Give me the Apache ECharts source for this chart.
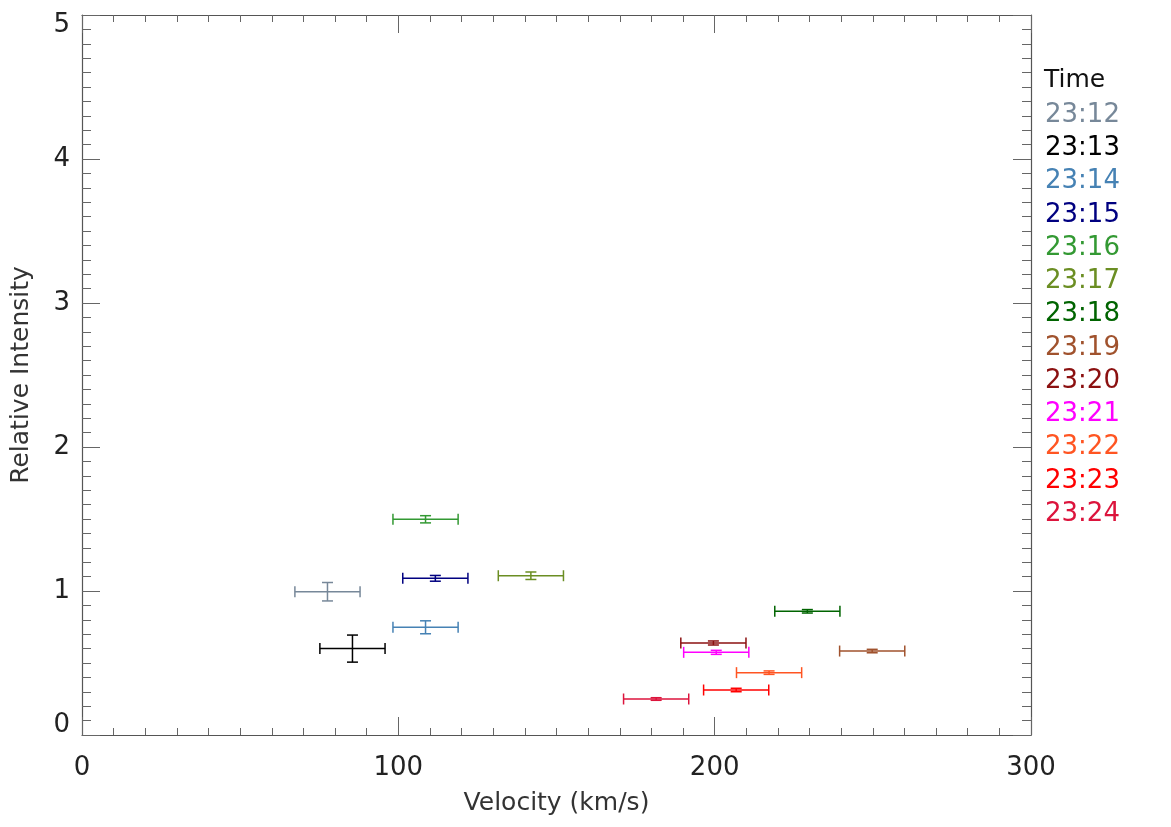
<!DOCTYPE html>
<html>
<head>
<meta charset="utf-8">
<script src="https://cdn.jsdelivr.net/npm/echarts@6/dist/echarts.min.js"></script>
<style>html,body{margin:0;padding:0;background:#fff}#c{width:1171px;height:827px}</style>
</head>
<body>
<div id="c"></div>
<script>
// Data
const times = ['23:12','23:13','23:14','23:15','23:16','23:17','23:18','23:19','23:20','23:21','23:22','23:23','23:24'];
const velocity = [77.6, 85.5, 108.6, 111.7, 108.6, 141.9, 229.3, 249.8, 199.6, 200.5, 217.2, 206.8, 181.5];
const velocityErr = [10.3, 10.3, 10.3, 10.3, 10.3, 10.3, 10.3, 10.3, 10.3, 10.3, 10.3, 10.3, 10.3];
const intensity = [0.995, 0.60, 0.748, 1.088, 1.498, 1.106, 0.859, 0.583, 0.639, 0.574, 0.433, 0.3125, 0.25];
const intensityErr = [0.064, 0.094, 0.045, 0.02, 0.025, 0.026, 0.012, 0.012, 0.014, 0.014, 0.012, 0.012, 0.009];
const colors = ['#778899','#000000','#4682B4','#000080','#339933','#6B8E23','#006400','#A0522D','#8B1010','#FF00FF','#FF5522','#FF0000','#DC143C'];
const xTicks = [0, 100, 200, 300];
const yTicks = [0, 1, 2, 3, 4, 5];

const FONT = 'DejaVu Sans';
const chart = echarts.init(document.getElementById('c'), null, {renderer: 'canvas'});

function errRender(params, api) {
  const v = api.value(0), i = api.value(1), xe = api.value(2), ye = api.value(3);
  const l = api.coord([v - xe, i]), r = api.coord([v + xe, i]);
  const t = api.coord([v, i + ye]), b = api.coord([v, i - ye]);
  const cap = 5.5;
  const color = api.visual('color');
  const st = {stroke: color, lineWidth: 1.5, fill: null};
  return {
    type: 'group',
    children: [
      {type: 'line', shape: {x1: l[0], y1: l[1], x2: r[0], y2: r[1]}, style: st},
      {type: 'line', shape: {x1: l[0], y1: l[1] - cap, x2: l[0], y2: l[1] + cap}, style: st},
      {type: 'line', shape: {x1: r[0], y1: r[1] - cap, x2: r[0], y2: r[1] + cap}, style: st},
      {type: 'line', shape: {x1: t[0], y1: t[1], x2: b[0], y2: b[1]}, style: st},
      {type: 'line', shape: {x1: t[0] - cap, y1: t[1], x2: t[0] + cap, y2: t[1]}, style: st},
      {type: 'line', shape: {x1: b[0] - cap, y1: b[1], x2: b[0] + cap, y2: b[1]}, style: st}
    ]
  };
}

const series = times.map((t, k) => ({
  type: 'custom',
  name: t,
  color: colors[k],
  renderItem: errRender,
  encode: {x: 0, y: 1},
  data: [[velocity[k], intensity[k], velocityErr[k], intensityErr[k]]],
  z: 5
}));

const axisLineStyle = {color: '#555', width: 1.2};
const tickStyle = {color: '#666', width: 1};

function baseX() {
  return {
    type: 'value', min: xTicks[0], max: xTicks[xTicks.length - 1], interval: 100,
    axisLine: {show: true, onZero: false, lineStyle: axisLineStyle},
    axisTick: {show: true, inside: true, length: 18, lineStyle: tickStyle},
    minorTick: {show: true, splitNumber: 10, length: 7, lineStyle: tickStyle},
    splitLine: {show: false}, minorSplitLine: {show: false}
  };
}
function baseY() {
  return {
    type: 'value', min: yTicks[0], max: yTicks[yTicks.length - 1], interval: 1,
    axisLine: {show: true, onZero: false, lineStyle: axisLineStyle},
    axisTick: {show: true, inside: true, length: 18, lineStyle: tickStyle},
    minorTick: {show: true, splitNumber: 10, length: 9, lineStyle: tickStyle},
    splitLine: {show: false}, minorSplitLine: {show: false}
  };
}

chart.setOption({
  animation: false,
  backgroundColor: '#fff',
  grid: {left: 82, right: 140, top: 15, bottom: 92, containLabel: false},
  xAxis: [
    Object.assign(baseX(), {
      position: 'bottom',
      name: 'Velocity (km/s)', nameLocation: 'middle', nameGap: 56,
      nameTextStyle: {fontFamily: FONT, fontSize: 25, color: '#333'},
      axisLabel: {show: true, fontFamily: FONT, fontSize: 26, color: '#222', margin: 20}
    }),
    Object.assign(baseX(), {position: 'top', axisLabel: {show: false}})
  ],
  yAxis: [
    Object.assign(baseY(), {
      position: 'left',
      name: 'Relative Intensity', nameLocation: 'middle', nameGap: 48,
      nameTextStyle: {fontFamily: FONT, fontSize: 25, color: '#333'},
      axisLabel: {show: true, fontFamily: FONT, fontSize: 26, lineHeight: 20, color: '#222', margin: 12,
                  verticalAlignMinLabel: 'bottom', verticalAlignMaxLabel: 'top'}
    }),
    Object.assign(baseY(), {position: 'right', axisLabel: {show: false}})
  ],
  legend: {
    show: true, orient: 'vertical', left: 1040, top: 97,
    icon: 'none', itemWidth: 0, itemHeight: 22, itemGap: 7.25,
    selectedMode: false,
    textStyle: {fontFamily: FONT, fontSize: 26, padding: [0, 0, 0, -5]},
    data: times.map((t, k) => ({name: t, textStyle: {color: colors[k]}}))
  },
  graphic: [{
    type: 'text', left: 1044, top: 68,
    style: {text: 'Time', fontFamily: FONT, fontSize: 25, fill: '#111'}
  }],
  series: series
});
</script>
</body>
</html>
